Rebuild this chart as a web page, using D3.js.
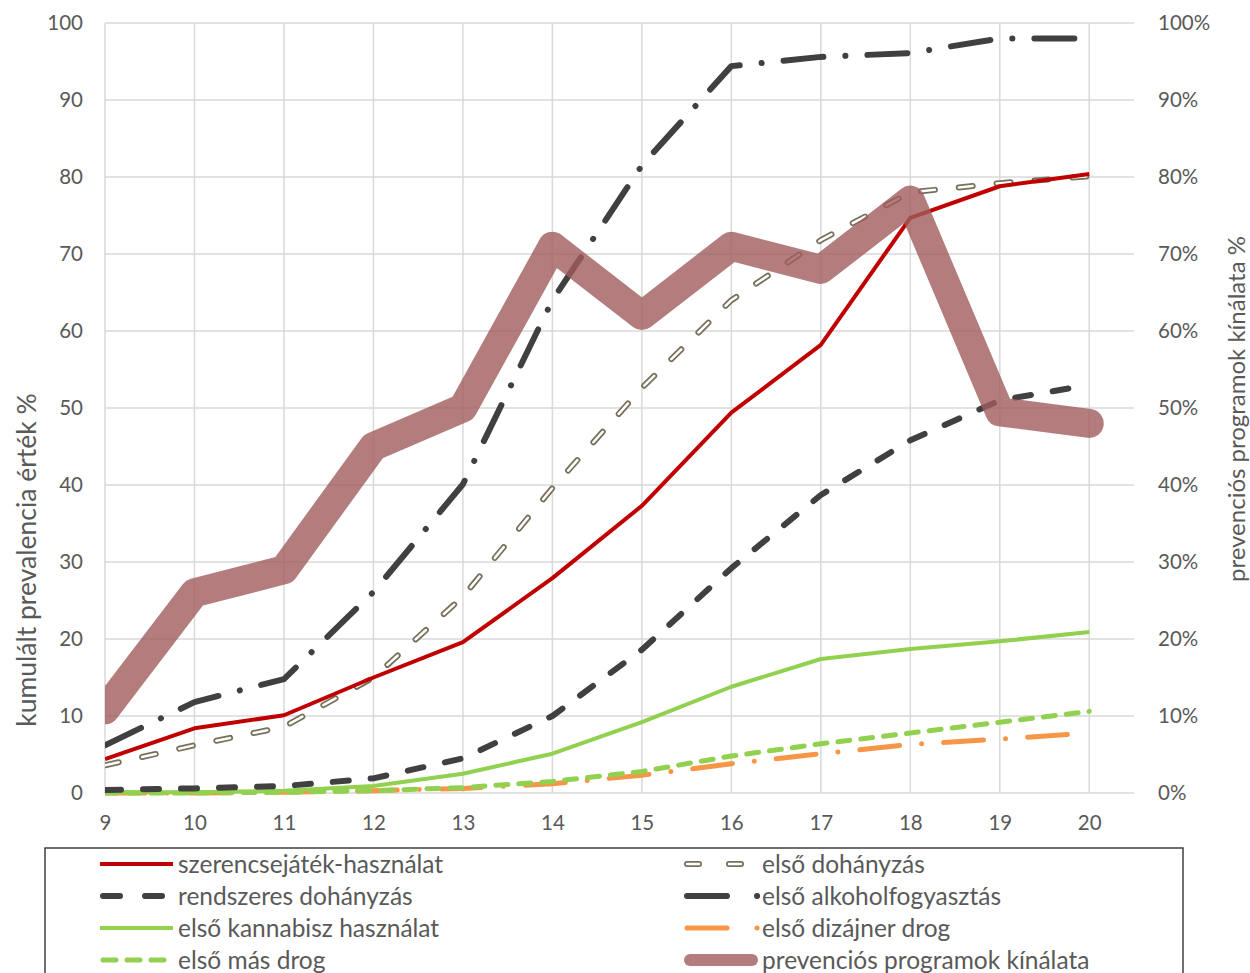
<!DOCTYPE html>
<html>
<head>
<meta charset="utf-8">
<script src="https://cdn.jsdelivr.net/npm/d3@7"></script>
<style>
  body { margin: 0; background: #fff; }
  text { font-family: Lato, "Open Sans", sans-serif; fill: #595959; }
</style>
</head>
<body>
<div id="chart"></div>
<script>
// ages on the x axis
let ages = [9, 10, 11, 12, 13, 14, 15, 16, 17, 18, 19, 20];

// left axis series (cumulative prevalence %)
let szerencsejatek = [4.4, 8.4, 10.1, 15.0, 19.6, 27.9, 37.3, 49.4, 58.2, 74.7, 78.8, 80.4];
let elsoDohanyzas = [3.6, 6.2, 8.6, 15.0, 25.5, 39.6, 52.6, 64.0, 71.8, 78.0, 79.2, 80.1];
let rendszeresDohanyzas = [0.4, 0.6, 0.9, 1.9, 4.5, 10.0, 18.6, 29.2, 38.7, 45.8, 51.0, 53.0];
let elsoAlkohol = [6.2, 11.8, 14.8, 26.1, 40.1, 64.0, 81.5, 94.4, 95.6, 96.1, 98.0, 98.0];
let elsoKannabisz = [0.1, 0.1, 0.3, 0.9, 2.5, 5.1, 9.2, 13.8, 17.4, 18.7, 19.7, 20.9];
let elsoDizajner = [0.0, 0.0, 0.1, 0.3, 0.6, 1.2, 2.3, 3.8, 5.1, 6.3, 7.0, 7.8];
let elsoMasDrog = [0.0, 0.0, 0.1, 0.3, 0.7, 1.5, 2.8, 4.8, 6.4, 7.8, 9.2, 10.6];

// right axis series (prevention programme offer)
let prevencios = [0.108, 0.26, 0.29, 0.45, 0.50, 0.71, 0.62, 0.71, 0.68, 0.77, 0.495, 0.48];

let leftTicks = [0, 10, 20, 30, 40, 50, 60, 70, 80, 90, 100];
let rightTicks = [0, 0.1, 0.2, 0.3, 0.4, 0.5, 0.6, 0.7, 0.8, 0.9, 1.0];

let svgWidth = 1250;
let svgHeight = 973;

let plot = { left: 105, right: 1134, top: 23, bottom: 793 };

let svg = d3.select('#chart')
            .append('svg')
            .attr('width', svgWidth)
            .attr('height', svgHeight);

let xScale = d3.scaleLinear().domain([9, 20.5]).range([plot.left, plot.right]);
let yScale = d3.scaleLinear().domain([0, 100]).range([plot.bottom, plot.top]);
let y2Scale = d3.scaleLinear().domain([0, 1]).range([plot.bottom, plot.top]);

// gridlines
let grid = svg.append('g');
grid.selectAll('.hgrid')
    .data(leftTicks)
    .enter()
    .append('line')
    .attr('x1', plot.left).attr('x2', plot.right)
    .attr('y1', d => yScale(d)).attr('y2', d => yScale(d))
    .attr('stroke', '#d9d9d9').attr('stroke-width', 1.5);
grid.selectAll('.vgrid')
    .data(ages)
    .enter()
    .append('line')
    .attr('x1', d => xScale(d)).attr('x2', d => xScale(d))
    .attr('y1', plot.top).attr('y2', plot.bottom)
    .attr('stroke', '#d9d9d9').attr('stroke-width', 1.5);

// axes (labels only, no domain lines)
let leftAxis = d3.axisLeft(yScale).tickValues(leftTicks).tickSize(0).tickPadding(22);
let rightAxis = d3.axisRight(y2Scale).tickValues(rightTicks).tickSize(0).tickPadding(24)
                  .tickFormat(d3.format('.0%'));
let bottomAxis = d3.axisBottom(xScale).tickValues(ages).tickSize(0).tickPadding(22)
                   .tickFormat(d3.format('d'));

function styleAxis(g) {
    g.select('.domain').remove();
    g.selectAll('text').style('font-size', '20.5px').style('fill', '#595959')
     .style('font-family', 'Lato, sans-serif');
}
svg.append('g').attr('transform', `translate(${plot.left},0)`).call(leftAxis).call(styleAxis);
svg.append('g').attr('transform', `translate(${plot.right},0)`).call(rightAxis).call(styleAxis);
svg.append('g').attr('transform', `translate(0,${plot.bottom})`).call(bottomAxis).call(styleAxis);

// axis titles
svg.append('text')
   .attr('transform', 'translate(36,560) rotate(-90)')
   .attr('text-anchor', 'middle')
   .style('font-size', '26.5px')
   .text('kumulált prevalencia érték %');
svg.append('text')
   .attr('transform', 'translate(1245,409) rotate(-90)')
   .attr('text-anchor', 'middle')
   .style('font-size', '24px')
   .text('prevenciós programok kínálata %');

// clip for the plot area
svg.append('clipPath').attr('id', 'plotClip')
   .append('rect')
   .attr('x', plot.left).attr('y', plot.top - 20)
   .attr('width', plot.right - plot.left).attr('height', plot.bottom - plot.top + 40);

let lineLeft = d3.line().x((d, i) => xScale(ages[i])).y(d => yScale(d));
let lineRight = d3.line().x((d, i) => xScale(ages[i])).y(d => y2Scale(d));

let seriesGroup = svg.append('g').attr('clip-path', 'url(#plotClip)');

function drawLine(values, color, width, dash) {
    seriesGroup.append('path')
       .datum(values)
       .attr('d', lineLeft)
       .attr('fill', 'none')
       .attr('stroke', color)
       .attr('stroke-width', width)
       .attr('stroke-linecap', dash ? 'round' : 'butt')
       .attr('stroke-linejoin', 'round')
       .attr('stroke-dasharray', dash || null);
}

drawLine(elsoDizajner, '#f79646', 5, '40,22,0.1,22');
drawLine(elsoMasDrog, '#92d050', 5, '12,11');
drawLine(elsoKannabisz, '#92d050', 4, null);
drawLine(rendszeresDohanyzas, '#404040', 6, '16,22');
drawLine(elsoAlkohol, '#404040', 6, '40,22,0.1,22');
// outlined dashes for first smoking
drawLine(elsoDohanyzas, '#76705a', 6, '14,24');
drawLine(elsoDohanyzas, '#ffffff', 2.5, '14,24');
drawLine(szerencsejatek, '#c00000', 4, null);

// secondary axis series on top, translucent
seriesGroup.append('path')
   .datum(prevencios)
   .attr('d', lineRight)
   .attr('fill', 'none')
   .attr('stroke', '#a05c5c')
   .attr('stroke-opacity', 0.8)
   .attr('stroke-width', 29)
   .attr('stroke-linecap', 'round')
   .attr('stroke-linejoin', 'round');

// legend
let legendItems = [
    { name: 'szerencsejáték-használat', col: 0, row: 0, color: '#c00000', width: 4, dash: null, x1: 0, x2: 73 },
    { name: 'rendszeres dohányzás', col: 0, row: 1, color: '#404040', width: 6, dash: '17,25', x1: 3, x2: 73 },
    { name: 'első kannabisz használat', col: 0, row: 2, color: '#92d050', width: 4, dash: null, x1: 0, x2: 73 },
    { name: 'első más drog', col: 0, row: 3, color: '#92d050', width: 5, dash: '13,11', x1: 3, x2: 73 },
    { name: 'első dohányzás', col: 1, row: 0, color: '#76705a', width: 6, dash: '12,30', x1: 3, x2: 72, outline: true },
    { name: 'első alkoholfogyasztás', col: 1, row: 1, color: '#404040', width: 6, dash: '40,30,0.1,40', x1: 3, x2: 76 },
    { name: 'első dizájner drog', col: 1, row: 2, color: '#f79646', width: 5, dash: '40,30,0.1,40', x1: 3, x2: 76 },
    { name: 'prevenciós programok  kínálata', col: 1, row: 3, color: '#a05c5c', width: 12, dash: null, x1: 6, x2: 68, band: true }
];

let legend = svg.append('g');
legend.append('rect')
      .attr('x', 45).attr('y', 848)
      .attr('width', 1138).attr('height', 140)
      .attr('fill', '#fff')
      .attr('stroke', '#404040').attr('stroke-width', 1.5);

let colX = [100, 684];
let legendRow = legend.selectAll('.item')
      .data(legendItems)
      .enter()
      .append('g')
      .attr('transform', d => `translate(${colX[d.col]},${864 + d.row * 32})`);

legendRow.each(function(d) {
    let g = d3.select(this);
    g.append('line')
     .attr('x1', d.x1).attr('x2', d.x2).attr('y1', 0).attr('y2', 0)
     .attr('stroke', d.color)
     .attr('stroke-opacity', d.band ? 0.8 : 1)
     .attr('stroke-width', d.width)
     .attr('stroke-linecap', (d.dash || d.band) ? 'round' : 'butt')
     .attr('stroke-dasharray', d.dash);
    if (d.outline) {
        g.append('line')
         .attr('x1', d.x1).attr('x2', d.x2).attr('y1', 0).attr('y2', 0)
         .attr('stroke', '#fff').attr('stroke-width', 2.5)
         .attr('stroke-linecap', 'round')
         .attr('stroke-dasharray', d.dash);
    }
    g.append('text')
     .attr('x', 78).attr('y', 0).attr('dy', '0.35em')
     .style('font-size', '24.5px')
     .text(d.name);
});
</script>
</body>
</html>
